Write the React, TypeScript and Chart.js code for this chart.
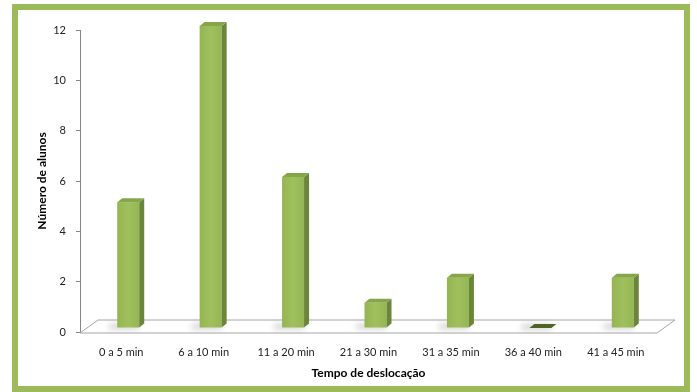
import React, { useEffect, useRef } from 'react';
import { Chart, registerables } from 'chart.js';

Chart.register(...registerables);

const categories = ['0 a 5 min', '6 a 10 min', '11 a 20 min', '21 a 30 min', '31 a 35 min', '36 a 40 min', '41 a 45 min'];
const values = [5, 12, 6, 1, 2, 0, 2];
const yTicks = [0, 2, 4, 6, 8, 10, 12];
const xTitle = 'Tempo de deslocação';
const yTitle = 'Número de alunos';

const FONT = 'Lato, "Open Sans", sans-serif';
const FLOOR_DX = 18;
const FLOOR_DY = -13;
const BAR_DX = 7;
const BAR_DY = -4;
const SIDE_DX = 5;
const SIDE_DY = -4;

const floorPlugin = {
  id: 'floor3d',
  beforeDatasetsDraw(chart: any) {
    const { ctx, chartArea } = chart;
    const y0 = chart.scales.y.getPixelForValue(yTicks[0]) + 1;
    const l = chartArea.left;
    const r = chartArea.right;
    ctx.save();
    ctx.beginPath();
    ctx.moveTo(l, y0);
    ctx.lineTo(r, y0);
    ctx.lineTo(r + FLOOR_DX, y0 + FLOOR_DY);
    ctx.lineTo(l + FLOOR_DX, y0 + FLOOR_DY);
    ctx.closePath();
    ctx.fillStyle = '#ffffff';
    ctx.fill();
    ctx.strokeStyle = '#a6a6a6';
    ctx.lineWidth = 1;
    ctx.stroke();
    ctx.restore();
  },
  afterDatasetsDraw(chart: any) {
    const { ctx } = chart;
    const meta = chart.getDatasetMeta(0);
    meta.data.forEach((el: any, i: number) => {
      const w = el.width;
      const left = el.x - w / 2 + BAR_DX;
      const right = left + w;
      const top = el.y + BAR_DY;
      const bottom = el.base + BAR_DY;
      ctx.save();
      // soft shadow on floor
      ctx.filter = 'blur(3px)';
      ctx.fillStyle = 'rgba(120,120,120,0.45)';
      ctx.fillRect(left - 8, bottom - 3, w + 8, 4);
      ctx.filter = 'none';
      if (values[i] === 0) {
        ctx.beginPath();
        ctx.moveTo(left, bottom);
        ctx.lineTo(left + SIDE_DX, bottom + SIDE_DY);
        ctx.lineTo(right + SIDE_DX, bottom + SIDE_DY);
        ctx.lineTo(right, bottom);
        ctx.closePath();
        ctx.fillStyle = '#4f6228';
        ctx.fill();
        ctx.restore();
        return;
      }
      // front
      const g = ctx.createLinearGradient(left, 0, right, 0);
      g.addColorStop(0, '#94b552');
      g.addColorStop(0.5, '#9fc05d');
      g.addColorStop(1, '#95b654');
      ctx.fillStyle = g;
      ctx.fillRect(left, top, w, bottom - top);
      // side
      ctx.beginPath();
      ctx.moveTo(right, top);
      ctx.lineTo(right + SIDE_DX, top + SIDE_DY);
      ctx.lineTo(right + SIDE_DX, bottom + SIDE_DY);
      ctx.lineTo(right, bottom);
      ctx.closePath();
      ctx.fillStyle = '#6b863a';
      ctx.fill();
      // top
      ctx.beginPath();
      ctx.moveTo(left, top);
      ctx.lineTo(left + SIDE_DX, top + SIDE_DY);
      ctx.lineTo(right + SIDE_DX, top + SIDE_DY);
      ctx.lineTo(right, top);
      ctx.closePath();
      ctx.fillStyle = '#86a64a';
      ctx.fill();
      ctx.restore();
    });
  },
};

export default function App() {
  const ref = useRef<HTMLCanvasElement>(null);
  useEffect(() => {
    if (!ref.current) return;
    const chart = new Chart(ref.current, {
      type: 'bar',
      data: {
        labels: categories,
        datasets: [
          {
            data: values,
            backgroundColor: 'rgba(0,0,0,0)',
            borderWidth: 0,
            barThickness: 22,
          },
        ],
      },
      options: {
        responsive: false,
        animation: false,
        layout: { padding: { left: 0, top: 30, right: 40, bottom: 0 } },
        plugins: { legend: { display: false }, tooltip: { enabled: false } },
        scales: {
          x: {
            grid: { display: false, drawTicks: false },
            border: { display: false },
            ticks: { color: '#222', font: { family: FONT, size: 11 }, padding: 14, maxRotation: 0 },
            title: {
              display: true,
              text: xTitle,
              color: '#000',
              font: { family: FONT, size: 12, weight: 'bold' },
              padding: { top: 0, bottom: 12 },
            },
            afterFit: (s: any) => {
              s.height = 60;
            },
          },
          y: {
            min: yTicks[0],
            max: yTicks[yTicks.length - 1],
            ticks: { stepSize: yTicks[1] - yTicks[0], color: '#222', font: { family: FONT, size: 11 }, padding: 10 },
            grid: { drawOnChartArea: false, drawTicks: true, tickLength: 4, color: '#868686' },
            border: { display: true, color: '#868686' },
            title: {
              display: true,
              text: yTitle,
              color: '#000',
              font: { family: FONT, size: 12, weight: 'bold' },
              padding: { top: 35, bottom: 0 },
            },
            afterFit: (s: any) => {
              s.width = 80;
            },
          },
        },
      },
      plugins: [floorPlugin],
    });
    return () => chart.destroy();
  }, []);
  return (
    <div style={{ position: 'absolute', left: 0, top: 0, width: 697, height: 392, background: '#fff', overflow: 'hidden' }}>
      <canvas ref={ref} width={697} height={392} style={{ position: 'absolute', left: 0, top: 0 }} />
      <div
        style={{
          position: 'absolute',
          left: 12,
          top: 4,
          width: 678,
          height: 388,
          border: '6px solid #9bbb59',
          boxSizing: 'border-box',
          pointerEvents: 'none',
        }}
      />
    </div>
  );
}
